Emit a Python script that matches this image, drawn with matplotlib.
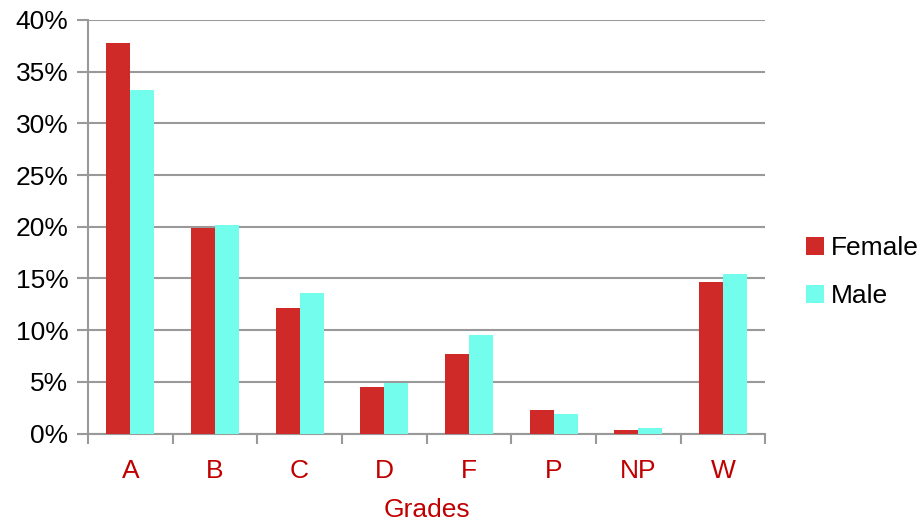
import matplotlib
matplotlib.use("Agg")
import matplotlib.pyplot as plt
import numpy as np

# grade distribution by gender, values in percent
grades = ["A", "B", "C", "D", "F", "P", "NP", "W"]
female = [37.8, 19.9, 12.1, 4.5, 7.7, 2.24, 0.38, 14.65]
male = [33.2, 20.2, 13.6, 4.9, 9.5, 1.89, 0.53, 15.4]

plt.rcParams["font.family"] = ["Liberation Sans", "DejaVu Sans"]

fig = plt.figure(figsize=(9.22, 5.22), dpi=100)
ax = fig.add_axes([0.0954, 0.1695, 0.7346, 0.7922])

x = np.arange(len(grades))
w = 0.284
ax.bar(x - w / 2, female, w, color="#CF2A27", label="Female", zorder=3)
ax.bar(x + w / 2, male, w, color="#72FDEC", label="Male", zorder=3)

ax.set_xlim(-0.5, len(grades) - 0.5)
ax.set_ylim(0, 40)
ax.set_yticks(range(0, 41, 5))
ax.set_yticklabels(["{}%".format(v) for v in range(0, 41, 5)], fontsize=19)
ax.yaxis.grid(True, color="#999999", linewidth=1.5, zorder=0)

ax.set_xticks(x)
ax.set_xticklabels(grades, fontsize=19, color="#C00000")
ax.set_xticks(np.arange(-0.5, len(grades)), minor=True)
ax.tick_params(axis="x", which="major", length=0, pad=18)
ax.tick_params(axis="x", which="minor", length=7, width=1.5, color="#999999")
ax.tick_params(axis="y", length=8, width=1.5, color="#999999", pad=6)

for s in ["top", "right"]:
    ax.spines[s].set_visible(False)
for s in ["left", "bottom"]:
    ax.spines[s].set_color("#999999")
    ax.spines[s].set_linewidth(1.5)

ax.set_xlabel("Grades", fontsize=19, color="#C00000", labelpad=11)

ax.legend(loc="center left", bbox_to_anchor=(1.06, 0.39), frameon=False,
          fontsize=19, handlelength=0.7, handleheight=0.7,
          handletextpad=0.25, labelspacing=0.9, borderpad=0, borderaxespad=0)

fig.savefig("out.png", dpi=100)
